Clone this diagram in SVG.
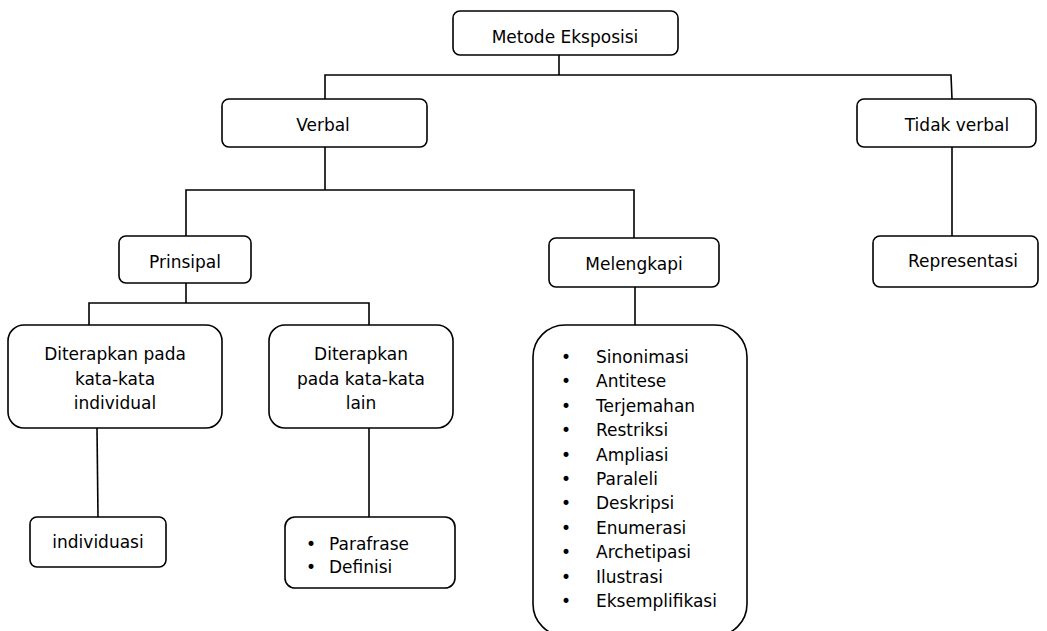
<svg xmlns="http://www.w3.org/2000/svg" width="1047" height="631" viewBox="0 0 1047 631">
<style>
.box{fill:#fff;stroke:#000;stroke-width:1.6}
.ln{fill:none;stroke:#000;stroke-width:1.6}
text{font-family:"DejaVu Sans","Liberation Sans",sans-serif;font-size:17px;fill:#000}
.c{text-anchor:middle}
</style>
<rect width="1047" height="631" fill="#fff"/>
<g id="connectors">
<path class="ln" d="M559,55 V75"/>
<path class="ln" d="M325,99 V75 H951 L952,99"/>
<path class="ln" d="M325,147 V190"/>
<path class="ln" d="M186,236 V190 H634 V238"/>
<path class="ln" d="M186,283 V303"/>
<path class="ln" d="M89,325 V303 H369 V325"/>
<path class="ln" d="M97,428 L98,517"/>
<path class="ln" d="M369,428 V517"/>
<path class="ln" d="M635,287 V325"/>
<path class="ln" d="M952,147 V236"/>
</g>
<g id="n-metode">
<rect class="box" x="453" y="11" width="225" height="44" rx="7"/>
<text class="c" x="565" y="43">Metode Eksposisi</text>
</g>
<g id="n-verbal">
<rect class="box" x="222" y="99" width="205" height="48" rx="7"/>
<text class="c" x="323" y="131">Verbal</text>
</g>
<g id="n-tidak-verbal">
<rect class="box" x="857" y="99" width="179" height="48" rx="7"/>
<text class="c" x="957" y="131">Tidak verbal</text>
</g>
<g id="n-prinsipal">
<rect class="box" x="119" y="236" width="132" height="47" rx="7"/>
<text class="c" x="185" y="268">Prinsipal</text>
</g>
<g id="n-melengkapi">
<rect class="box" x="549" y="238" width="170" height="49" rx="7"/>
<text class="c" x="634" y="270">Melengkapi</text>
</g>
<g id="n-representasi">
<rect class="box" x="873" y="236" width="165" height="51" rx="7"/>
<text class="c" x="963" y="267">Representasi</text>
</g>
<g id="n-individual">
<rect class="box" x="8" y="325" width="214" height="103" rx="16"/>
<text class="c" x="115" y="360">Diterapkan pada</text>
<text class="c" x="115" y="385">kata-kata</text>
<text class="c" x="115" y="409">individual</text>
</g>
<g id="n-lain">
<rect class="box" x="269" y="325" width="184" height="103" rx="16"/>
<text class="c" x="361" y="360">Diterapkan</text>
<text class="c" x="361" y="385">pada kata-kata</text>
<text class="c" x="361" y="409">lain</text>
</g>
<g id="n-individuasi">
<rect class="box" x="30" y="517" width="136" height="50" rx="7"/>
<text class="c" x="98" y="548">individuasi</text>
</g>
<g id="n-parafrase">
<rect class="box" x="285" y="517" width="170" height="71" rx="10"/>
<text class="c" x="311" y="550">•</text><text x="329" y="550">Parafrase</text>
<text class="c" x="311" y="573">•</text><text x="329" y="573">Definisi</text>
</g>
<g id="n-list">
<rect class="box" x="533" y="325" width="214" height="311" rx="32"/>
<g class="c">
<text x="566" y="363">•</text><text x="566" y="387.4">•</text><text x="566" y="411.8">•</text><text x="566" y="436.2">•</text><text x="566" y="460.6">•</text><text x="566" y="485">•</text><text x="566" y="509.4">•</text><text x="566" y="533.8">•</text><text x="566" y="558.2">•</text><text x="566" y="582.6">•</text><text x="566" y="607">•</text>
</g>
<text x="596" y="363">Sinonimasi</text>
<text x="596" y="387.4">Antitese</text>
<text x="596" y="411.8">Terjemahan</text>
<text x="596" y="436.2">Restriksi</text>
<text x="596" y="460.6">Ampliasi</text>
<text x="596" y="485">Paraleli</text>
<text x="596" y="509.4">Deskripsi</text>
<text x="596" y="533.8">Enumerasi</text>
<text x="596" y="558.2">Archetipasi</text>
<text x="596" y="582.6">Ilustrasi</text>
<text x="596" y="607">Eksemplifikasi</text>
</g>
</svg>
